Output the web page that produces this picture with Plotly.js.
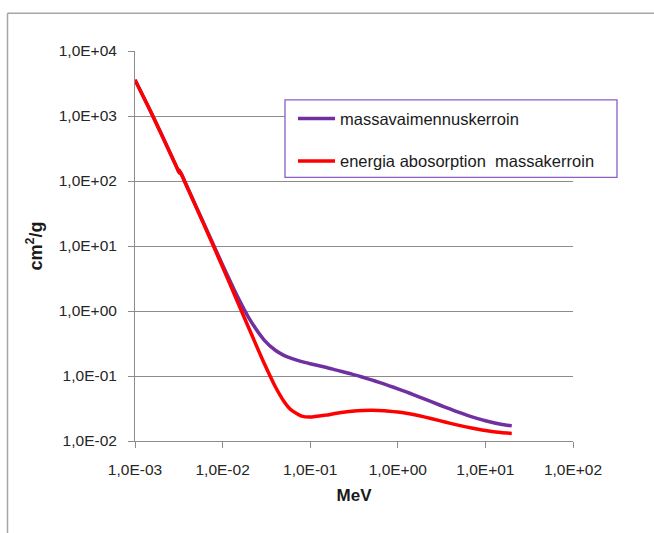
<!DOCTYPE html>
<html>
<head>
<meta charset="utf-8">
<script src="https://cdn.plot.ly/plotly-3.0.1.min.js"></script>
<style>
html,body{margin:0;padding:0;background:#fff;}
#chart{width:654px;height:533px;}
</style>
</head>
<body>
<div id="chart"></div>
<script>
// Photon energy (MeV)
const energyMeV = [1e-3, 1.5e-3, 2e-3, 3e-3, 3.2e-3, 3.2e-3, 4e-3, 5e-3, 6e-3, 8e-3,
  1e-2, 1.5e-2, 2e-2, 3e-2, 4e-2, 5e-2, 6e-2, 8e-2, 0.1, 0.15, 0.2, 0.3, 0.4, 0.5,
  0.6, 0.8, 1, 1.25, 1.5, 2, 3, 4, 5, 6, 8, 10, 15, 20];
// massavaimennuskerroin (cm2/g)
const massAtt = [3600, 1190, 528, 162, 134, 148, 77.9, 40.3, 23.4, 9.92,
  5.12, 1.61, 0.778, 0.354, 0.249, 0.208, 0.188, 0.166, 0.154, 0.136, 0.123, 0.107, 0.0955, 0.0871,
  0.0806, 0.0707, 0.0636, 0.0569, 0.0518, 0.0445, 0.0358, 0.0308, 0.0275, 0.0252, 0.0223, 0.0205, 0.0181, 0.0171];
// energia abosorption massakerroin (cm2/g)
const massEnAbs = [3590, 1190, 526, 161, 133, 146, 76.4, 39.3, 22.7, 9.45,
  4.74, 1.33, 0.539, 0.154, 0.0683, 0.0410, 0.0304, 0.0241, 0.0233, 0.0250, 0.0267, 0.0287, 0.0295, 0.0297,
  0.0295, 0.0288, 0.0279, 0.0267, 0.0255, 0.0235, 0.0206, 0.0187, 0.0174, 0.0165, 0.0153, 0.0145, 0.0135, 0.0131];
const seriesNames = ['massavaimennuskerroin', 'energia abosorption  massakerroin'];
const xTickVals = [1e-3, 1e-2, 1e-1, 1, 10, 100];
const xTickText = ['1,0E-03', '1,0E-02', '1,0E-01', '1,0E+00', '1,0E+01', '1,0E+02'];
const yTickVals = [1e-2, 1e-1, 1, 10, 100, 1000, 10000];
const yTickText = ['1,0E-02', '1,0E-01', '1,0E+00', '1,0E+01', '1,0E+02', '1,0E+03', '1,0E+04'];

const FONT = 'Liberation Sans, Arial, sans-serif';
const GRID = '#8c8c8c';

const traces = [
  {x: energyMeV, y: massAtt, name: seriesNames[0], type: 'scatter', mode: 'lines',
   legendgroup: 'a', line: {color: '#7030A0', width: 3.5, shape: 'spline', smoothing: 0.6}},
  {x: energyMeV, y: massEnAbs, name: seriesNames[1], type: 'scatter', mode: 'lines',
   legendgroup: 'b', line: {color: '#FF0000', width: 3.5, shape: 'spline', smoothing: 0.6}}
];

const layout = {
  width: 654, height: 533,
  margin: {l: 135, r: 81, t: 51, b: 92},
  paper_bgcolor: '#ffffff', plot_bgcolor: '#ffffff',
  font: {family: FONT, size: 15.5, color: '#262626'},
  showlegend: true,
  legend: {
    x: (293 - 135) / 438, y: (440.7 - 101) / 390, xanchor: 'left', yanchor: 'top',
    bgcolor: 'rgba(0,0,0,0)', borderwidth: 0, traceorder: 'grouped', tracegroupgap: 18,
    itemwidth: 37, font: {family: FONT, size: 16.5, color: '#1a1a1a'}
  },
  xaxis: {
    type: 'log', range: [-3, 2], tickvals: xTickVals, ticktext: xTickText,
    showgrid: false, zeroline: false, showline: true, linecolor: GRID, linewidth: 1,
    ticks: 'outside', ticklen: 6, tickcolor: GRID, tickwidth: 1, ticklabelstandoff: 8,
    tickfont: {family: FONT, size: 15.5, color: '#262626'},
    title: {text: 'MeV', font: {family: FONT, size: 17, weight: 'bold', color: '#1a1a1a'}, standoff: 12}
  },
  yaxis: {
    type: 'log', range: [-2, 4], tickvals: yTickVals, ticktext: yTickText,
    showgrid: true, gridcolor: GRID, gridwidth: 1, zeroline: false,
    showline: true, linecolor: GRID, linewidth: 1,
    ticks: 'outside', ticklen: 6, tickcolor: GRID, tickwidth: 1, ticklabelstandoff: 8,
    tickfont: {family: FONT, size: 15.5, color: '#262626'},
    title: {text: 'cm<sup>2</sup>/g', font: {family: FONT, size: 18, weight: 'bold', color: '#1a1a1a'}, standoff: 11}
  },
  shapes: [
    // legend box
    {type: 'rect', xref: 'paper', yref: 'paper', layer: 'above',
     x0: (285 - 135) / 438, x1: (617 - 135) / 438,
     y0: (440.7 - 177) / 390, y1: (440.7 - 99.5) / 390,
     fillcolor: '#ffffff', line: {color: '#8c5cc8', width: 1.3}},
    // outer chart frame (left and top edges)
    {type: 'line', xref: 'paper', yref: 'paper', layer: 'below',
     x0: (7.5 - 135) / 438, x1: (7.5 - 135) / 438, y0: (440.7 - 13) / 390, y1: (440.7 - 540) / 390,
     line: {color: '#a6a6a6', width: 1.5}},
    {type: 'line', xref: 'paper', yref: 'paper', layer: 'below',
     x0: (7.5 - 135) / 438, x1: (660 - 135) / 438, y0: (440.7 - 13) / 390, y1: (440.7 - 13) / 390,
     line: {color: '#a6a6a6', width: 1.5}}
  ]
};

Plotly.newPlot('chart', traces, layout, {displayModeBar: false, staticPlot: true});
</script>
</body>
</html>
